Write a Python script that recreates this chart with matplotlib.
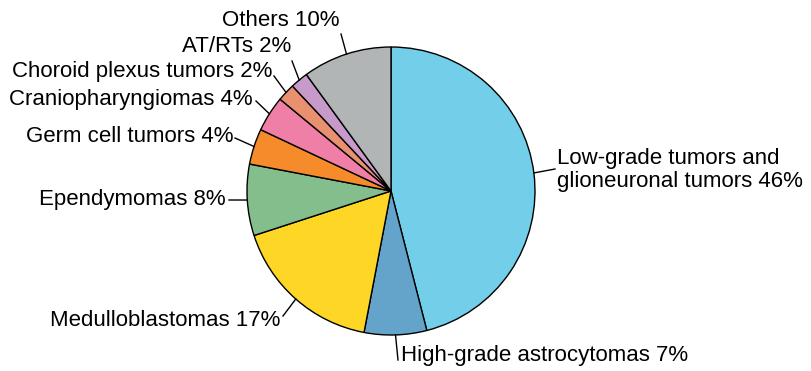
import numpy as np
import matplotlib
matplotlib.use("Agg")
import matplotlib.pyplot as plt

plt.rcParams['font.family'] = ['Liberation Sans', 'DejaVu Sans']

labels = [
    'Low-grade tumors and\nglioneuronal tumors',
    'High-grade astrocytomas',
    'Medulloblastomas',
    'Ependymomas',
    'Germ cell tumors',
    'Craniopharyngiomas',
    'Choroid plexus tumors',
    'AT/RTs',
    'Others',
]
shares = [46, 7, 17, 8, 4, 4, 2, 2, 10]
colors = ['#72CEE9', '#64A4CB', '#FDD626', '#84BE8D', '#F68B2C',
          '#F07FA8', '#E8906F', '#C89ACA', '#B2B5B6']

W, H = 811, 371
cx, cy, r = 391, H - 191, 144

# where each label sits (pixel coords, y from top) and where its leader ends
label_pos = [
    (557, 170, 'left', (555, 169)),
    (401, 355, 'left', (398, 360)),
    (280, 320, 'right', (283, 316)),
    (226, 200, 'right', (229, 200)),
    (233, 137, 'right', (235, 138)),
    (253, 99, 'right', (256, 101)),
    (272, 72, 'right', (274, 76)),
    (291, 46, 'right', (292, 61)),
    (339, 20, 'right', (341, 34)),
]

fig = plt.figure(figsize=(W / 100, H / 100), dpi=100)
ax = fig.add_axes([0, 0, 1, 1])

wedges, _ = ax.pie(shares, colors=colors, startangle=90, counterclock=False,
                   center=(cx, cy), radius=r,
                   wedgeprops=dict(edgecolor='black', linewidth=1.0))

for w, lab, val, (tx, ty, ha, (lx, ly)) in zip(wedges, labels, shares, label_pos):
    mid = np.deg2rad((w.theta1 + w.theta2) / 2)
    px, py = cx + r * np.cos(mid), cy + r * np.sin(mid)
    ax.plot([px, lx], [py, H - ly], color='black', lw=1.0)
    ax.text(tx, H - ty, f'{lab} {val}%', ha=ha, va='center', fontsize=16,
            linespacing=1.1)

ax.set_xlim(0, W)
ax.set_ylim(0, H)
ax.set_aspect('equal')
ax.axis('off')

fig.savefig('out.png', dpi=100)
